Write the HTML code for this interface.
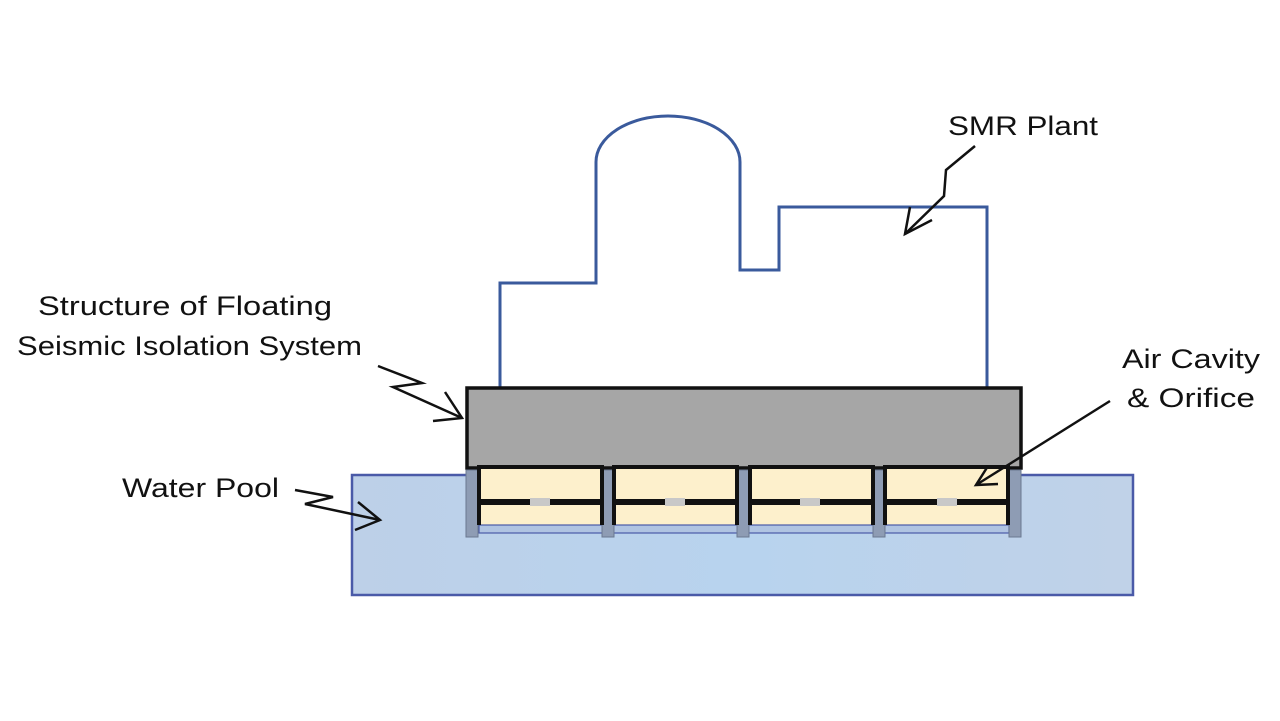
<!DOCTYPE html>
<html><head><meta charset="utf-8"><style>
html,body{margin:0;padding:0;background:#fff;}
svg{display:block;}
text{font-family:"Liberation Sans",sans-serif;font-size:27px;fill:#111;}
</style></head><body>
<svg width="1280" height="721" viewBox="0 0 1280 721" xmlns="http://www.w3.org/2000/svg">
<defs>
<linearGradient id="pool" x1="0" x2="1" y1="0" y2="0">
<stop offset="0" stop-color="#bdd0e8"/><stop offset="0.5" stop-color="#b8d3ee"/><stop offset="1" stop-color="#c0d2e8"/>
</linearGradient>
</defs>
<!-- plant outline -->
<path d="M500,387 V283 H596 V162 A72,46 0 0 1 740,162 V270 H779 V207 H987 V387" fill="none" stroke="#3a5a9c" stroke-width="3"/>
<!-- pool -->
<rect x="352" y="475" width="781" height="120" fill="url(#pool)" stroke="#4a5aa8" stroke-width="2.5"/>
<!-- gray block -->
<rect x="467" y="388" width="554" height="80" fill="#a6a6a6" stroke="#111" stroke-width="3.5"/>
<!-- compartments -->
<g>
<rect x="479" y="467" width="122" height="58" fill="#fdf0cc"/>
<rect x="614" y="467" width="123" height="58" fill="#fdf0cc"/>
<rect x="750" y="467" width="123" height="58" fill="#fdf0cc"/>
<rect x="885" y="467" width="124" height="58" fill="#fdf0cc"/>
<g fill="#111">
<rect x="478" y="465" width="125" height="4"/><rect x="613" y="465" width="125" height="4"/>
<rect x="749" y="465" width="125" height="4"/><rect x="884" y="465" width="126" height="4"/>
<rect x="478" y="499" width="532" height="6"/>
</g>
<g fill="#c8c8c8">
<rect x="530" y="498" width="20" height="8"/><rect x="665" y="498" width="20" height="8"/>
<rect x="800" y="498" width="20" height="8"/><rect x="937" y="498" width="20" height="8"/>
</g>
<rect x="479" y="525" width="530" height="8" fill="#b0c4e2" stroke="#4a5aa8" stroke-width="1.2"/>
<g fill="#8e9cb4" stroke="#6b7890" stroke-width="1">
<rect x="466" y="470" width="12" height="67"/><rect x="602" y="470" width="12" height="67"/>
<rect x="737" y="470" width="12" height="67"/><rect x="873" y="470" width="12" height="67"/>
<rect x="1009" y="470" width="12" height="67"/>
</g>
<g fill="#111">
<rect x="477" y="465" width="4" height="60"/><rect x="600" y="465" width="4" height="60"/>
<rect x="612" y="465" width="4" height="60"/><rect x="735" y="465" width="4" height="60"/>
<rect x="748" y="465" width="4" height="60"/><rect x="871" y="465" width="4" height="60"/>
<rect x="883" y="465" width="4" height="60"/><rect x="1006" y="465" width="4" height="60"/>
</g>
</g>
<!-- arrows -->
<g fill="none" stroke="#111" stroke-width="2.5" stroke-linejoin="miter">
<polyline points="975,146 946,170 944,196 905,234"/>
<polyline points="910,207 905,234 932,220"/>
<polyline points="378,366 422,383 393,387 462,418"/>
<polyline points="445,392 462,418 433,421"/>
<polyline points="295,490 333,497 305,504 380,520"/>
<polyline points="358,502 380,520 355,530"/>
<line x1="1110" y1="401" x2="976" y2="485"/>
<polyline points="988,466 976,485 998,484"/>
</g>
<!-- labels -->
<text x="948" y="135" textLength="150" lengthAdjust="spacingAndGlyphs">SMR Plant</text>
<text x="38" y="315" textLength="294" lengthAdjust="spacingAndGlyphs">Structure of Floating</text>
<text x="17" y="355" textLength="345" lengthAdjust="spacingAndGlyphs">Seismic Isolation System</text>
<text x="122" y="497" textLength="157" lengthAdjust="spacingAndGlyphs">Water Pool</text>
<text x="1122" y="368" textLength="138" lengthAdjust="spacingAndGlyphs">Air Cavity</text>
<text x="1127" y="407" textLength="128" lengthAdjust="spacingAndGlyphs">&amp; Orifice</text>
</svg>
</body></html>
